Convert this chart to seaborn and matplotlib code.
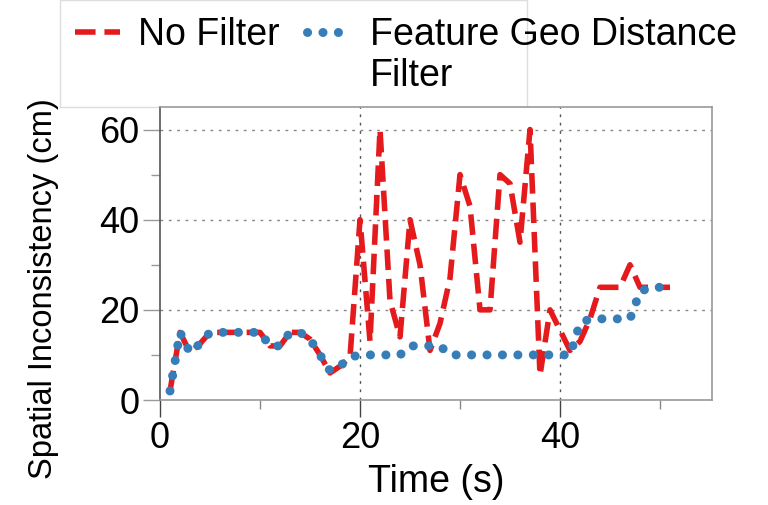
import matplotlib
matplotlib.use("Agg")
import matplotlib.pyplot as plt
from matplotlib.patches import Rectangle
from matplotlib.ticker import MultipleLocator
import seaborn as sns
import pandas as pd

time_s = list(range(1, 52))
no_filter = [2, 15, 10.5, 12.5, 15, 15, 15, 15, 15, 15,
             12, 12, 15, 15, 13.5, 10, 6, 7.5, 9.5, 40,
             13, 60, 22, 14, 40, 30, 11, 17, 27, 50,
             43, 20, 20, 50, 48, 35, 60, 5.5, 20, 15.5,
             11, 13, 18, 25, 25, 25, 30, 25, 25, 25, 25]
geo_filter = [2, 15, 10.5, 12.5, 15, 15, 15, 15, 15, 15,
              12, 12, 15, 15, 13.5, 10, 6.5, 7.5, 9.5, 10,
              10, 10, 10, 10, 12, 12, 12, 12, 10, 10,
              10, 10, 10, 10, 10, 10, 10, 10, 10, 10,
              10, 17, 18, 18, 18, 18, 18, 24, 25, 25, 25]
series_labels = ["No Filter", "Feature Geo Distance", "Filter"]
x_major = [0, 20, 40]
y_major = [0, 20, 40, 60]

sns.set_theme(style="white")
plt.rcParams["font.family"] = ["Liberation Sans", "DejaVu Sans"]
plt.rcParams["text.color"] = "black"
plt.rcParams["axes.labelcolor"] = "black"
plt.rcParams["xtick.color"] = "black"
plt.rcParams["ytick.color"] = "black"

RED = "#e41a1c"
BLUE = "#377eb8"

fig = plt.figure(figsize=(7.68, 5.05), dpi=100)
ax = fig.add_axes([160 / 768, 1 - 400 / 505, 552 / 768, 293 / 505])

df = pd.DataFrame({"t": time_s, "nf": no_filter, "gf": geo_filter})
sns.lineplot(data=df, x="t", y="nf", ax=ax, color=RED, lw=4,
             linestyle="--", label=series_labels[0])
sns.lineplot(data=df, x="t", y="gf", ax=ax, color=BLUE, lw=6.5,
             linestyle=(0, (0.01, 1.7)), dash_capstyle="round",
             label=series_labels[1])

ax.set_xlim(0, 55.2)
ax.set_ylim(0, 65)
ax.set_xticks(x_major)
ax.set_yticks(y_major)
ax.xaxis.set_minor_locator(MultipleLocator(10))
ax.yaxis.set_minor_locator(MultipleLocator(10))
ax.tick_params(axis="both", which="both", bottom=True, left=True,
               top=False, right=False, direction="out")
ax.tick_params(axis="both", which="major", length=12, width=1,
               labelsize=26, pad=3, labelcolor="black")
ax.tick_params(axis="both", which="minor", length=6.5, width=1)
ax.tick_params(axis="x", which="major", color="#444444")
ax.tick_params(axis="x", which="minor", color="#888888")
ax.tick_params(axis="y", which="both", color="#999999")

for g in [20, 40]:
    ax.axvline(g, color="#555555", lw=1, ls=(0, (2, 4)), zorder=0)
for g in [20, 40, 60]:
    ax.axhline(g, color="#888888", lw=1, ls=(0, (2, 4)), zorder=0)

for side in ["top", "right", "bottom"]:
    ax.spines[side].set_color("#999999")
    ax.spines[side].set_linewidth(1.2)
ax.spines["left"].set_color("#555555")
ax.spines["left"].set_linewidth(1.2)

ax.set_xlabel("Time (s)", fontsize=27, labelpad=6)
ax.set_ylabel("Spatial Inconsistency (cm)", fontsize=23.5)
ax.yaxis.set_label_coords(-0.183, 0.379)

ax.get_legend().remove()
handles, labels = ax.get_legend_handles_labels()
leg = fig.legend(handles, labels, loc="upper left",
                 bbox_to_anchor=(75 / 768, 1 - 17 / 505), ncol=2,
                 frameon=False, fontsize=27, handlelength=1.2,
                 handletextpad=0.48, columnspacing=0.72, borderaxespad=0,
                 borderpad=0)
fig.patches.append(Rectangle((60 / 768, 1 - 107 / 505), 467 / 768, 107 / 505,
                             transform=fig.transFigure, facecolor="none",
                             edgecolor="#dddddd", lw=1, zorder=-1))

fig.canvas.draw()
bb = leg.get_texts()[1].get_window_extent()
fig.text(bb.x0 / (7.68 * 100), (bb.y0 - 5) / (5.05 * 100), series_labels[2],
         fontsize=27, ha="left", va="top")

fig.savefig("out.png", dpi=100)
